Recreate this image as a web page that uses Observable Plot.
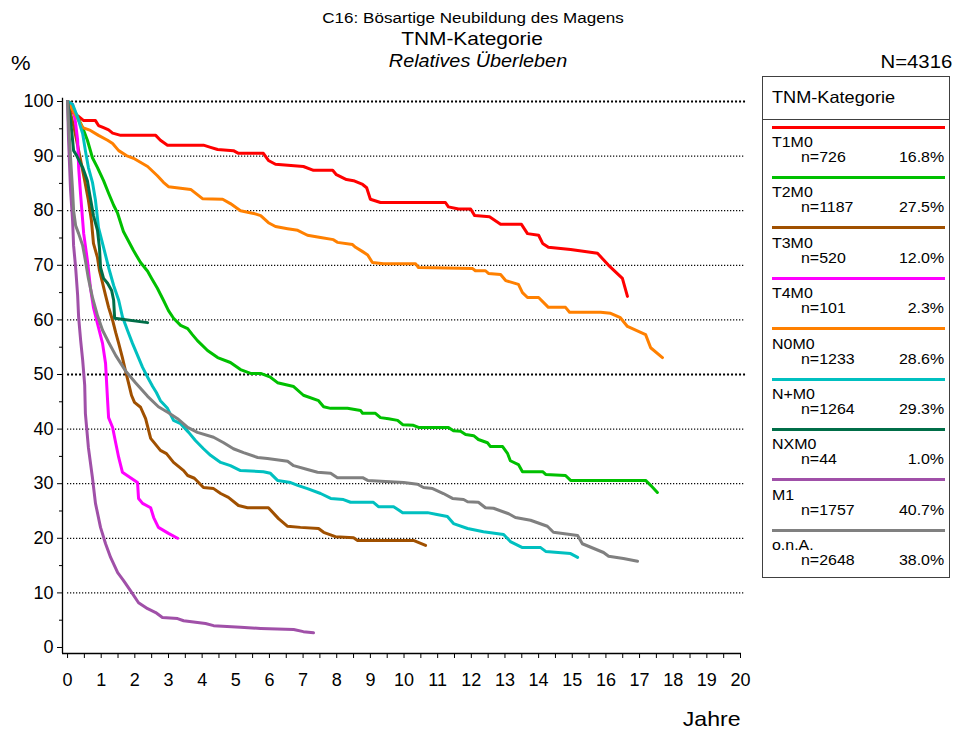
<!DOCTYPE html>
<html>
<head>
<meta charset="utf-8">
<script src="https://cdn.jsdelivr.net/npm/d3@7"></script>
<script src="https://cdn.jsdelivr.net/npm/@observablehq/plot@0.6"></script>
<style>
  html, body { margin: 0; padding: 0; background: #fff; }
  #wrap { position: relative; width: 953px; height: 731px; overflow: hidden; background: #fff;
          font-family: "Liberation Sans", Arial, sans-serif; color: #000; }
  #wrap svg { position: absolute; left: 0; top: 0; }
  .t { position: absolute; white-space: nowrap; line-height: 1; }
  #legend { position: absolute; left: 762px; top: 76px; width: 188px; height: 502px;
            border: 1px solid #404040; box-sizing: border-box; background: #fff; }
</style>
</head>
<body>
<div id="wrap"></div>
<script>
// ---------- data (years, relative survival %) ----------
const seriesNames = ["T1M0", "T2M0", "T3M0", "T4M0", "N0M0", "N+M0", "NXM0", "M1", "o.n.A."];
const seriesColors = ["#ff0000", "#00c000", "#a05000", "#ff00ff", "#ff8000", "#00c0c0", "#006e48", "#a050a8", "#808080"];
const seriesN = [726, 1187, 520, 101, 1233, 1264, 44, 1757, 2648];
const seriesShare = ["16.8%", "27.5%", "12.0%", "2.3%", "28.6%", "29.3%", "1.0%", "40.7%", "38.0%"];

const T1M0 = [[0,100],[0.18,97.8],[0.30,97.4],[0.48,96.5],[0.83,96.5],[0.92,95.6],[1.07,95.2],[1.22,94.8],[1.34,94.2],[1.58,93.8],[2.62,93.8],[2.76,92.9],[2.97,92.0],[4.04,92.0],[4.25,91.6],[4.46,91.2],[4.93,91.0],[5.08,90.5],[5.82,90.5],[5.97,89.2],[6.18,88.5],[7.01,88.1],[7.31,87.4],[7.88,87.4],[7.99,86.6],[8.29,85.7],[8.50,85.5],[8.77,84.8],[8.89,84.2],[9.00,82.1],[9.30,81.5],[11.23,81.5],[11.32,80.7],[11.62,80.3],[11.98,80.3],[12.10,79.1],[12.54,78.9],[12.87,77.5],[13.49,77.5],[13.67,75.8],[14.00,75.5],[14.12,74.0],[14.29,73.3],[14.95,72.9],[15.75,72.2],[16.08,70.0],[16.49,67.6],[16.64,64.3]];

const T2M0 = [[0,100],[0.09,99.8],[0.30,97.1],[0.45,95.2],[0.59,92.9],[0.74,89.7],[0.89,87.9],[1.07,85.5],[1.22,83.2],[1.37,81.0],[1.49,79.5],[1.66,76.2],[1.96,72.7],[2.17,70.5],[2.38,68.9],[2.50,67.6],[2.67,65.8],[2.85,63.6],[3.00,61.7],[3.15,60.3],[3.36,59.0],[3.57,58.4],[3.71,57.3],[3.86,56.2],[4.16,54.4],[4.46,53.1],[4.84,52.2],[5.14,50.9],[5.44,50.2],[5.74,50.2],[6.03,49.5],[6.24,48.5],[6.72,47.8],[7.01,46.2],[7.46,45.2],[7.61,44.1],[7.82,43.8],[8.32,43.8],[8.71,43.4],[8.77,42.9],[9.15,42.9],[9.30,42.1],[9.54,41.9],[9.81,41.6],[9.96,40.8],[10.28,40.7],[10.43,40.3],[11.32,40.3],[11.47,39.7],[11.68,39.6],[11.83,39.0],[12.07,38.8],[12.21,38.1],[12.48,37.5],[12.57,36.8],[12.93,36.8],[13.08,35.5],[13.16,34.2],[13.40,33.5],[13.52,32.2],[14.12,32.2],[14.21,31.7],[14.80,31.5],[14.95,30.6],[17.18,30.6],[17.33,29.7],[17.53,28.4]];

const T3M0 = [[0,100],[0.18,95.6],[0.36,90.1],[0.51,85.5],[0.62,81.9],[0.71,78.2],[0.77,74.0],[0.89,71.4],[0.95,69.0],[1.04,66.8],[1.13,64.5],[1.22,62.3],[1.34,59.9],[1.43,57.7],[1.52,55.7],[1.63,53.1],[1.72,50.7],[1.81,48.5],[1.90,46.2],[1.99,44.9],[2.17,44.0],[2.32,41.9],[2.47,38.3],[2.76,36.1],[2.94,35.5],[3.15,33.9],[3.45,32.4],[3.57,31.5],[3.77,31.0],[4.04,29.3],[4.34,29.1],[4.55,28.2],[4.78,27.5],[5.08,26.0],[5.35,25.6],[5.97,25.6],[6.27,23.6],[6.54,22.2],[6.92,22.0],[7.46,21.8],[7.61,21.1],[7.96,20.3],[8.50,20.1],[8.62,19.6],[10.28,19.6],[10.64,18.7]];

const T4M0 = [[0,100],[0.15,99.5],[0.24,96.0],[0.30,92.9],[0.33,87.9],[0.39,82.8],[0.48,75.8],[0.59,70.9],[0.68,65.9],[0.77,62.3],[0.89,59.3],[1.04,55.7],[1.13,52.0],[1.19,45.2],[1.22,42.1],[1.34,40.3],[1.43,37.5],[1.52,34.8],[1.63,32.1],[1.87,31.1],[2.08,30.2],[2.11,27.3],[2.23,26.4],[2.47,25.6],[2.56,23.8],[2.70,22.0],[3.00,20.9],[3.27,20.0]];

const N0M0 = [[0,100],[0.30,96.9],[0.45,95.2],[0.68,94.7],[0.92,93.8],[1.19,92.9],[1.34,92.3],[1.52,91.0],[1.75,90.1],[1.96,89.6],[2.38,88.1],[2.67,86.4],[2.85,85.2],[3.00,84.4],[3.66,83.9],[4.01,82.2],[4.61,82.1],[4.84,81.3],[5.14,80.0],[5.53,79.5],[5.74,79.1],[5.97,77.8],[6.18,77.1],[6.54,76.7],[6.84,76.4],[7.13,75.5],[7.52,75.1],[7.90,74.7],[8.02,74.2],[8.47,73.8],[8.56,73.3],[8.77,72.5],[8.92,71.9],[9.06,70.5],[9.39,70.3],[10.34,70.3],[10.43,69.6],[12.04,69.4],[12.12,69.0],[12.42,69.0],[12.51,68.5],[12.87,68.3],[13.02,67.2],[13.40,66.5],[13.52,65.0],[13.67,64.1],[14.00,64.1],[14.29,62.3],[14.80,62.3],[14.92,61.4],[15.84,61.4],[16.14,61.2],[16.43,60.4],[16.64,58.8],[17.18,57.3],[17.33,54.9],[17.68,53.1]];

const NplusM0 = [[0,100],[0.15,99.5],[0.30,97.1],[0.45,94.1],[0.53,91.0],[0.62,87.9],[0.74,85.2],[0.83,81.9],[0.92,76.9],[1.07,73.3],[1.22,69.6],[1.37,66.3],[1.52,63.6],[1.63,60.6],[1.78,58.1],[1.93,55.7],[2.08,53.5],[2.23,51.3],[2.38,49.5],[2.53,47.8],[2.64,46.7],[2.76,45.2],[2.97,43.8],[3.15,41.6],[3.36,41.0],[3.60,39.4],[3.80,37.9],[4.04,36.4],[4.25,35.2],[4.55,33.9],[4.84,33.3],[5.14,32.4],[5.82,32.2],[6.03,31.9],[6.24,30.6],[6.63,30.2],[6.84,29.7],[7.13,29.1],[7.52,28.2],[7.82,27.3],[8.20,27.1],[8.41,26.6],[9.09,26.6],[9.24,25.8],[9.69,25.8],[9.96,24.7],[10.70,24.7],[10.94,24.4],[11.29,24.0],[11.47,22.7],[11.89,21.8],[12.36,21.2],[12.96,20.7],[13.16,19.4],[13.52,18.3],[14.06,18.3],[14.21,17.6],[14.95,17.2],[15.16,16.5]];

const NXM0 = [[0,100],[0.09,96.5],[0.15,92.9],[0.18,91.0],[0.27,90.1],[0.45,87.9],[0.59,85.5],[0.65,83.3],[0.77,79.1],[0.89,76.4],[0.95,73.1],[0.98,69.6],[1.07,67.6],[1.19,66.7],[1.31,65.4],[1.37,63.6],[1.40,60.3],[2.38,59.5]];

const M1 = [[0,100],[0.03,92.9],[0.09,83.7],[0.15,78.2],[0.18,73.6],[0.24,69.6],[0.30,64.5],[0.33,60.4],[0.39,56.2],[0.45,52.6],[0.51,48.0],[0.53,42.9],[0.62,36.6],[0.74,31.1],[0.83,26.4],[0.98,22.0],[1.13,19.0],[1.28,16.5],[1.49,13.7],[1.66,12.3],[1.87,10.4],[2.11,8.2],[2.38,7.1],[2.62,6.4],[2.82,5.5],[3.27,5.3],[3.45,4.9],[4.10,4.4],[4.34,4.0],[5.14,3.7],[5.74,3.5],[6.72,3.3],[7.01,2.9],[7.31,2.7]];

const ONA = [[0,100],[0.03,96.0],[0.09,89.7],[0.15,83.7],[0.18,80.0],[0.24,77.3],[0.33,75.8],[0.45,73.6],[0.53,70.9],[0.62,67.6],[0.74,64.1],[0.89,60.8],[1.04,58.1],[1.22,55.9],[1.43,53.5],[1.72,50.7],[2.02,48.5],[2.38,46.0],[2.70,44.1],[3.00,43.0],[3.27,41.9],[3.57,40.3],[3.86,39.4],[4.34,38.5],[4.64,37.5],[4.93,36.4],[5.23,35.7],[5.65,34.8],[5.94,34.6],[6.54,34.1],[6.72,33.3],[7.13,32.6],[7.43,32.1],[7.82,31.9],[8.02,31.1],[8.77,31.1],[8.92,30.6],[9.99,30.2],[10.40,29.9],[10.58,29.3],[10.85,29.1],[11.17,28.2],[11.44,27.3],[11.77,27.1],[11.89,26.7],[12.21,26.6],[12.42,25.6],[12.66,25.5],[13.11,24.5],[13.31,23.8],[13.76,23.3],[14.26,22.2],[14.44,21.1],[15.16,20.5],[15.30,19.0],[15.93,17.4],[16.08,16.7],[16.52,16.3],[16.94,15.8]];

const seriesData = [T1M0, T2M0, T3M0, T4M0, N0M0, NplusM0, NXM0, M1, ONA];

const yTicks = [0, 10, 20, 30, 40, 50, 60, 70, 80, 90, 100];
const yMinorTicks = [5, 15, 25, 35, 45, 55, 65, 75, 85, 95];
const xTicks = d3.range(0, 21);
const xMinorTicks = d3.range(0.5, 20, 1);
const gridThin = [10, 20, 30, 40, 60, 70, 80, 90];
const gridBold = [50, 100];

const titleLines = ["C16: Bösartige Neubildung des Magens", "TNM-Kategorie", "Relatives Überleben"];
const totalN = "N=4316";
const legendTitle = "TNM-Kategorie";

// ---------- build ----------
const rows = [];
seriesData.forEach((arr, i) => arr.forEach(([t, s]) => rows.push({series: seriesNames[i], t, s})));

const xDom = [-0.15, 20];
const yDom = [-1.1, 100];

const chart = Plot.plot({
  width: 953,
  height: 731,
  marginLeft: 62,
  marginRight: 213,
  marginTop: 101,
  marginBottom: 78,
  x: {domain: xDom},
  y: {domain: yDom},
  color: {domain: seriesNames, range: seriesColors},
  style: {fontFamily: '"Liberation Sans", Arial, sans-serif', fontSize: "18px", color: "#000", background: "transparent", overflow: "visible"},
  marks: [
    Plot.ruleY(gridThin, {x1: 0, x2: 20.15, stroke: "#000", strokeWidth: 1.2, strokeDasharray: "1.2,1.8"}),
    Plot.ruleY(gridBold, {x1: 0, x2: 20.15, stroke: "#000", strokeWidth: 2, strokeDasharray: "2,2"}),
    Plot.ruleX([xDom[0]], {y1: yDom[0], y2: 100.6, stroke: "#000", strokeWidth: 1.3}),
    Plot.ruleY([yDom[0]], {x1: xDom[0], x2: 20.03, stroke: "#000", strokeWidth: 1.3}),
    Plot.axisY(yTicks, {anchor: "left", tickSize: 5, tickPadding: 4, fontSize: 18, label: null, stroke: "#000"}),
    Plot.axisY(yMinorTicks, {anchor: "left", tickSize: 3, tickFormat: () => "", label: null}),
    Plot.axisX(xTicks, {anchor: "bottom", tickSize: 5, tickPadding: 15, fontSize: 18, label: null}),
    Plot.axisX(xMinorTicks, {anchor: "bottom", tickSize: 5, tickFormat: () => "", label: null}),
    Plot.line(rows, {x: "t", y: "s", z: "series", stroke: "series", strokeWidth: 3, strokeLinejoin: "round"})
  ]
});

const wrap = document.getElementById("wrap");
wrap.appendChild(chart);

function addText(txt, opts) {
  const d = document.createElement("div");
  d.className = "t";
  d.textContent = txt;
  d.style.fontSize = opts.size + "px";
  if (opts.italic) d.style.fontStyle = "italic";
  const sx = opts.sx || 1.1;
  let tx = "-50%";
  if (opts.align === "left") { d.style.left = opts.x + "px"; tx = "0"; d.style.transformOrigin = "left center"; }
  else if (opts.align === "right") { d.style.right = (953 - opts.x) + "px"; tx = "0"; d.style.transformOrigin = "right center"; }
  else { d.style.left = opts.x + "px"; }
  d.style.top = opts.y + "px";
  d.style.transform = `translate(${tx}, -50%) scaleX(${sx})`;
  (opts.parent || wrap).appendChild(d);
  return d;
}

addText(titleLines[0], {x: 473, y: 18, size: 15.5});
addText(titleLines[1], {x: 472, y: 38, size: 19});
addText(titleLines[2], {x: 478, y: 61, size: 18, italic: true});
addText("%", {x: 11, y: 63, size: 20, align: "left"});
addText(totalN, {x: 952, y: 62, size: 18.5, align: "right"});
addText("Jahre", {x: 741, y: 718, size: 21, align: "right"});

// legend
const lg = document.createElement("div");
lg.id = "legend";
wrap.appendChild(lg);
function lgText(txt, x, y, size, align) {
  const d = document.createElement("div");
  d.className = "t";
  d.textContent = txt;
  d.style.fontSize = size + "px";
  d.style.top = y + "px";
  if (align === "right") { d.style.right = x + "px"; d.style.transformOrigin = "right center"; }
  else { d.style.left = x + "px"; d.style.transformOrigin = "left center"; }
  d.style.transform = "translateY(-50%) scaleX(1.1)";
  lg.appendChild(d);
}
lgText(legendTitle, 9, 20, 16.5);
const sep = document.createElement("div");
sep.style.cssText = "position:absolute;left:0;right:0;top:42px;height:1px;background:#404040;";
lg.appendChild(sep);
seriesNames.forEach((name, i) => {
  const y0 = 50 + i * 50.4;
  const ln = document.createElement("div");
  ln.style.cssText = `position:absolute;left:9px;width:173px;top:${y0 - 1.5}px;height:3px;background:${seriesColors[i]};`;
  lg.appendChild(ln);
  lgText(name, 9, y0 + 15, 14.5);
  lgText("n=" + seriesN[i], 38, y0 + 30, 14.5);
  lgText(seriesShare[i], 5, y0 + 30, 14.5, "right");
});
</script>
</body>
</html>
